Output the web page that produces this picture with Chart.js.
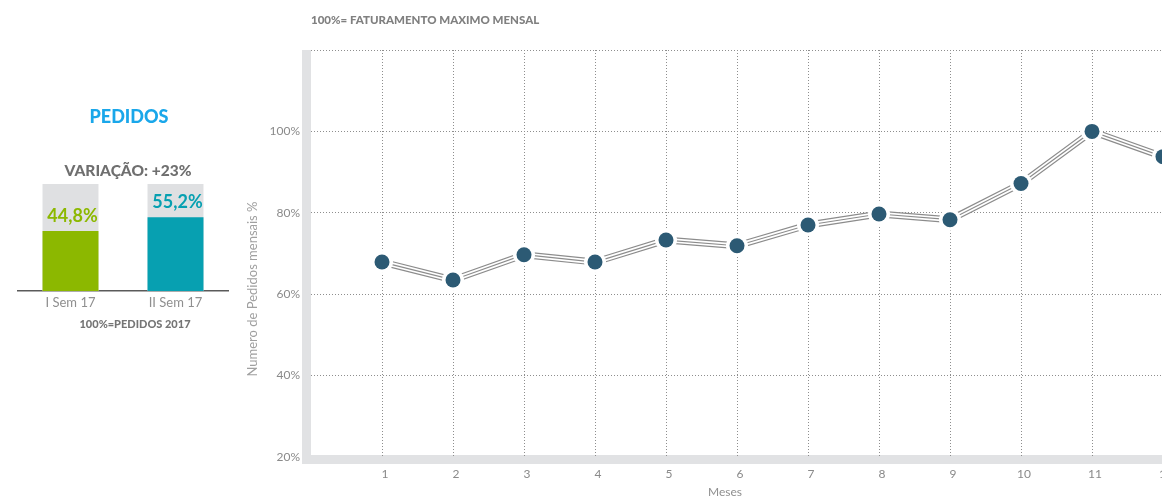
<!DOCTYPE html>
<html>
<head>
<meta charset="utf-8">
<script src="https://cdn.jsdelivr.net/npm/chart.js@4.4.1/dist/chart.umd.min.js"></script>
<style>
  html, body { margin: 0; padding: 0; background: #ffffff; overflow: hidden; }
  body { width: 1162px; height: 497px; position: relative; }
  #semWrap { position: absolute; left: 0; top: 0; width: 240px; height: 340px; }
  #mesWrap { position: absolute; left: 240px; top: 0; width: 935px; height: 497px; }
</style>
</head>
<body>
<div id="semWrap"><canvas id="semestres"></canvas></div>
<div id="mesWrap"><canvas id="meses"></canvas></div>
<script>
// Orders split by half-year (share of the 2017 total)
const semestres = ['I Sem 17', 'II Sem 17'];
const pedidosSemestre = [44.8, 55.2];
const coresSemestre = ['#8cb800', '#07a0b1'];

// Monthly orders as a share of the maximum monthly revenue
const meses = [1, 2, 3, 4, 5, 6, 7, 8, 9, 10, 11, 12];
const pedidosMensais = [67.9, 63.5, 69.7, 67.9, 73.3, 71.9, 77.0, 79.7, 78.3, 87.2, 100, 93.8];
const ticksY = [20, 40, 60, 80, 100];

const FONT = 'Lato, "Open Sans", sans-serif';
const fmtPct = v => v.toFixed(1).replace('.', ',') + '%';

// ---------- half-year bars ----------
const fundoSemestre = semestres.map(() => 80);
const variacao = Math.round((pedidosSemestre[1] / pedidosSemestre[0] - 1) * 100);

const textosSemestre = {
  id: 'textosSemestre',
  afterDatasetsDraw(chart) {
    const ctx = chart.ctx;
    ctx.save();
    ctx.textAlign = 'center';
    ctx.textBaseline = 'middle';
    ctx.fillStyle = '#1aa7ea';
    ctx.font = '900 18px ' + FONT;
    ctx.fillText('PEDIDOS', 129, 117);
    ctx.fillStyle = '#6f6f6f';
    ctx.font = '900 15.5px ' + FONT;
    ctx.fillText('VARIAÇÃO: +' + variacao + '%', 128, 171);
    ctx.fillStyle = '#757575';
    ctx.font = '900 11px ' + FONT;
    ctx.fillText('100%=PEDIDOS 2017', 135, 324);
    const meta = chart.getDatasetMeta(0);
    ctx.font = 'bold 18px ' + FONT;
    meta.data.forEach((bar, i) => {
      ctx.fillStyle = coresSemestre[i];
      ctx.fillText(fmtPct(pedidosSemestre[i]), bar.x + 2, bar.y - 15);
    });
    ctx.restore();
  }
};

new Chart(document.getElementById('semestres'), {
  type: 'bar',
  data: {
    labels: semestres,
    datasets: [
      { data: pedidosSemestre, backgroundColor: coresSemestre, order: 0,
        barPercentage: 0.533, categoryPercentage: 1 },
      { data: fundoSemestre, backgroundColor: '#dfe0e2', order: 1,
        barPercentage: 0.533, categoryPercentage: 1 }
    ]
  },
  options: {
    responsive: true,
    maintainAspectRatio: false,
    animation: false,
    layout: { padding: { left: 18, right: 12, top: 184, bottom: 0 } },
    plugins: { legend: { display: false }, tooltip: { enabled: false } },
    scales: {
      x: {
        stacked: true,
        afterFit(scale) { scale.height = 49; },
        grid: { display: false, drawTicks: false },
        border: { display: true, color: '#5a5a5a', width: 1.5 },
        ticks: { color: '#8f8f8f', font: { family: FONT, size: 13 }, padding: 4 }
      },
      y: { display: false, stacked: false, min: 0, max: 80 }
    }
  },
  plugins: [textosSemestre]
});

// ---------- monthly line ----------
const pontos = meses.map((m, i) => ({ x: m, y: pedidosMensais[i] }));
const GRID = '#8e8e8e';
const BANDA = '#e1e2e4';

const molduraMeses = {
  id: 'molduraMeses',
  beforeDraw(chart) {
    const { ctx, chartArea } = chart;
    ctx.save();
    ctx.fillStyle = BANDA;
    ctx.fillRect(chartArea.left - 9, chartArea.top, 9, chartArea.bottom + 7 - chartArea.top);
    ctx.fillRect(chartArea.left - 9, chartArea.bottom - 2, chart.width - chartArea.left + 9, 9);
    ctx.restore();
  },
  afterDraw(chart) {
    const { ctx, chartArea } = chart;
    ctx.save();
    ctx.fillStyle = '#808080';
    ctx.font = '900 11.5px ' + FONT;
    ctx.textAlign = 'left';
    ctx.textBaseline = 'middle';
    ctx.fillText('100%= FATURAMENTO MAXIMO MENSAL', chartArea.left, 20);
    ctx.fillStyle = '#8f8f8f';
    ctx.font = '12px ' + FONT;
    ctx.textAlign = 'center';
    ctx.fillText('Meses', 485, 492);
    ctx.translate(13, 289);
    ctx.rotate(-Math.PI / 2);
    ctx.fillStyle = '#a0a0a0';
    ctx.font = '13px ' + FONT;
    ctx.fillText('Numero de Pedidos mensais %', 0, 0);
    ctx.restore();
  }
};

const linha = (cor, largura, ordem) => ({
  data: pontos, borderColor: cor, borderWidth: largura, pointRadius: 0,
  tension: 0, fill: false, order: ordem, borderCapStyle: 'butt'
});

new Chart(document.getElementById('meses'), {
  type: 'line',
  data: {
    datasets: [
      { data: pontos, showLine: false, pointRadius: 7.5, pointBackgroundColor: '#2c5a74',
        pointBorderWidth: 0, order: 0 },
      { data: pontos, showLine: false, pointRadius: 11, pointBackgroundColor: '#ffffff',
        pointBorderWidth: 0, order: 1 },
      linha('#8c8c8c', 1.2, 2),
      linha('#ffffff', 4.6, 3),
      linha('#8c8c8c', 7, 4)
    ]
  },
  options: {
    responsive: true,
    maintainAspectRatio: false,
    animation: false,
    layout: { padding: { left: 0, right: 12, top: 50, bottom: 0 } },
    plugins: { legend: { display: false }, tooltip: { enabled: false } },
    scales: {
      x: {
        type: 'linear', min: 0, max: 12, z: 1,
        afterFit(scale) { scale.height = 40; scale.paddingLeft = 0; scale.paddingRight = 0; },
        afterBuildTicks(scale) { scale.ticks = [0].concat(meses).map(v => ({ value: v })); },
        border: { display: false, dash: [1, 2] },
        grid: {
          drawTicks: false,
          color: c => (c.tick && c.tick.value === 0 ? 'rgba(0,0,0,0)' : GRID),
          lineWidth: 1
        },
        ticks: {
          color: '#8a8a8a', font: { family: FONT, size: 12 }, padding: 10, labelOffset: 3,
          callback: v => (v === 0 ? '' : String(v))
        }
      },
      y: {
        min: 20, max: 120, z: 1,
        afterFit(scale) { scale.width = 71; },
        afterBuildTicks(scale) { scale.ticks = ticksY.concat([120]).map(v => ({ value: v })); },
        border: { display: false, dash: [1, 2] },
        grid: {
          drawTicks: false,
          color: c => (c.tick && c.tick.value === 20 ? 'rgba(0,0,0,0)' : GRID),
          lineWidth: 1
        },
        ticks: {
          color: '#8a8a8a', font: { family: FONT, size: 12 }, padding: 11,
          callback: v => (v === 120 ? '' : v + '%')
        }
      }
    }
  },
  plugins: [molduraMeses]
});
</script>
</body>
</html>
